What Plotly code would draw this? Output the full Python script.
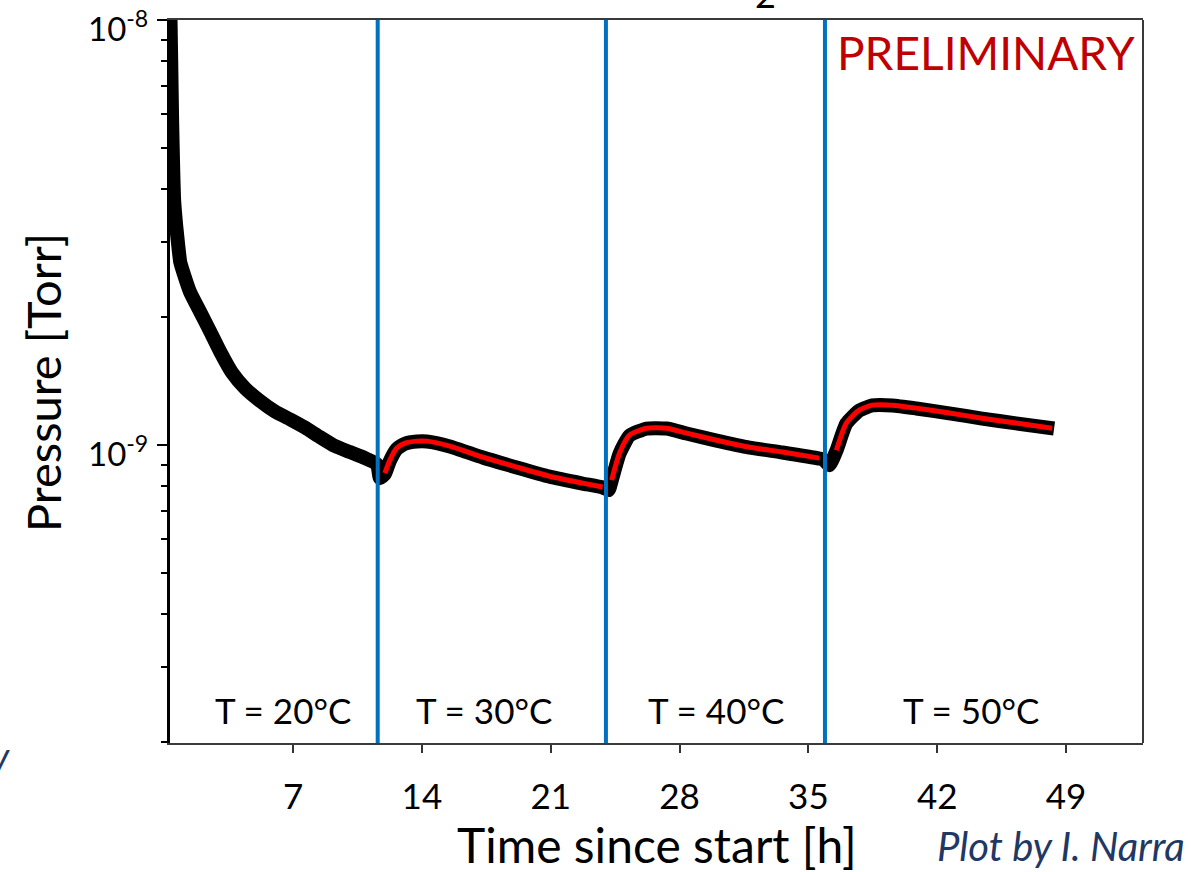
import math
import plotly.graph_objects as go

# ---- data ----
# measured pressure (black band), hours since start / Torr
meas_hours = [0.30, 0.38, 0.43, 0.49, 0.54, 0.65, 0.76, 0.87, 1.09, 1.41, 1.95, 2.50,
              3.04, 3.69, 4.40, 5.21, 6.02, 6.84, 7.65, 8.46, 9.28, 10.09, 10.91, 11.56,
              11.72, 11.99, 12.26, 12.64, 13.08, 13.73, 14.27, 15.52, 17.31, 19.15, 20.94,
              22.73, 23.82, 24.15, 24.31, 24.74, 25.28, 26.21, 27.29, 28.38, 30.01, 31.80,
              33.59, 35.59, 35.81, 36.14, 36.52, 37.06, 37.76, 38.47, 39.56, 40.86, 42.65,
              44.44, 46.28, 48.35]
meas_torr = [1.3e-8, 8.05e-9, 5.82e-9, 4.44e-9, 3.77e-9, 3.29e-9, 2.96e-9, 2.70e-9,
             2.51e-9, 2.29e-9, 2.06e-9, 1.85e-9, 1.66e-9, 1.48e-9, 1.36e-9, 1.27e-9,
             1.20e-9, 1.15e-9, 1.10e-9, 1.045e-9, 0.995e-9, 0.963e-9, 0.932e-9, 0.902e-9,
             0.836e-9, 0.855e-9, 0.918e-9, 0.980e-9, 1.008e-9, 1.020e-9, 1.020e-9,
             0.993e-9, 0.935e-9, 0.886e-9, 0.843e-9, 0.812e-9, 0.795e-9, 0.784e-9,
             0.824e-9, 0.955e-9, 1.053e-9, 1.094e-9, 1.094e-9, 1.065e-9, 1.025e-9,
             0.987e-9, 0.961e-9, 0.930e-9, 0.925e-9, 0.897e-9, 0.970e-9, 1.124e-9,
             1.206e-9, 1.240e-9, 1.240e-9, 1.220e-9, 1.188e-9, 1.155e-9, 1.125e-9,
             1.094e-9]

# fits (red) per temperature step
fit30_hours = [11.99, 12.26, 12.64, 13.08, 13.73, 14.27, 15.52, 17.31, 19.15, 20.94, 22.73, 23.82]
fit30_torr = [0.859e-9, 0.922e-9, 0.984e-9, 1.011e-9, 1.022e-9, 1.022e-9, 0.995e-9,
              0.937e-9, 0.888e-9, 0.845e-9, 0.814e-9, 0.797e-9]
fit40_hours = [24.31, 24.74, 25.28, 26.21, 27.29, 28.38, 30.01, 31.80, 33.59, 35.59]
fit40_torr = [0.827e-9, 0.958e-9, 1.056e-9, 1.096e-9, 1.096e-9, 1.067e-9, 1.027e-9,
              0.989e-9, 0.963e-9, 0.932e-9]
fit50_hours = [36.52, 37.06, 37.76, 38.47, 39.56, 40.86, 42.65, 44.44, 46.28, 48.24]
fit50_torr = [0.973e-9, 1.127e-9, 1.209e-9, 1.242e-9, 1.242e-9, 1.222e-9, 1.190e-9,
              1.157e-9, 1.127e-9, 1.096e-9]

step_hours = [11.6, 24.0, 35.9]
temp_labels = ["T = 20°C", "T = 30°C", "T = 40°C", "T = 50°C"]
temp_label_hours = [6.45, 17.38, 29.98, 43.83]

x_ticks = [7, 14, 21, 28, 35, 42, 49]
y_ticks = [1e-9, 1e-8]
y_ticktext = ["10<sup>-9</sup>", "10<sup>-8</sup>"]
y_minor = [k * 1e-10 for k in range(2, 10)] + [k * 1e-9 for k in range(2, 10)]

FONT = "Lato"

fig = go.Figure()
fig.add_trace(go.Scatter(x=meas_hours, y=meas_torr, mode="lines",
                         line=dict(color="black", width=14, shape="spline", smoothing=0.5),
                         showlegend=False))
for hx, hy in [(fit30_hours, fit30_torr), (fit40_hours, fit40_torr), (fit50_hours, fit50_torr)]:
    fig.add_trace(go.Scatter(x=hx, y=hy, mode="lines",
                             line=dict(color="#ff0000", width=5, shape="spline", smoothing=0.6),
                             showlegend=False))

for h in step_hours:
    fig.add_shape(type="line", x0=h, x1=h, xref="x", yref="paper", y0=0, y1=1,
                  line=dict(color="#0070C0", width=4))
# right frame edge
fig.add_shape(type="line", x0=1, x1=1, xref="paper", yref="paper", y0=0, y1=1,
              line=dict(color="#3a3a3a", width=2))

for txt, h in zip(temp_labels, temp_label_hours):
    fig.add_annotation(x=h, xref="x", y=0.045, yref="paper", text=txt, showarrow=False,
                       font=dict(family=FONT, size=35, color="black"),
                       xanchor="center", yanchor="middle")

# y tick labels as annotations (log axis -> positions in log10 units)
for val, txt in zip(y_ticks, y_ticktext):
    fig.add_annotation(x=0, xref="paper", y=math.log10(val), yref="y", text=txt,
                       showarrow=False, xanchor="right", yanchor="top", xshift=-20,
                       yshift=18, font=dict(family=FONT, size=33, color="black"))

fig.add_annotation(x=1, xref="paper", y=1, yref="paper", text="PRELIMINARY",
                   showarrow=False, xanchor="right", yanchor="top", xshift=-6, yshift=-3,
                   font=dict(family=FONT, size=46, color="#C00000"))
fig.add_annotation(x=0.5, xref="paper", y=0, yref="paper", text="Time since start [h]",
                   showarrow=False, xanchor="center", yanchor="middle", yshift=-101,
                   font=dict(family=FONT, size=48, color="black"))
fig.add_annotation(x=0, xref="paper", y=0.498, yref="paper", text="Pressure [Torr]",
                   showarrow=False, xanchor="center", yanchor="middle", xshift=-127,
                   textangle=-90, font=dict(family=FONT, size=47, color="black"))
fig.add_annotation(x=1, xref="paper", y=0, yref="paper", text="<i>Plot by I. Narra</i>",
                   showarrow=False, xanchor="right", yanchor="middle", xshift=44, yshift=-103,
                   font=dict(family=FONT, size=40, color="#1F3864"))
# slide fragments around the chart
fig.add_annotation(x=0, xref="paper", y=1, yref="paper", text="2", showarrow=False,
                   xanchor="center", yanchor="middle", xshift=595, yshift=26,
                   font=dict(family=FONT, size=36, color="black"))
fig.add_annotation(x=0, xref="paper", y=0, yref="paper", text="<i>y</i>", showarrow=False,
                   xanchor="right", yanchor="middle", xshift=-158, yshift=-12,
                   font=dict(family=FONT, size=38, color="#1F3864"))

fig.update_xaxes(range=[0.315, 53.18], tickmode="array", tickvals=x_ticks,
                 ticks="outside", ticklen=8, tickwidth=2, tickcolor="#333",
                 showline=True, linecolor="#3a3a3a", linewidth=2, mirror=True,
                 showgrid=False, zeroline=False, ticklabelstandoff=14, automargin=False,
                 tickfont=dict(family=FONT, size=35, color="black"))
fig.update_yaxes(type="log", range=[-9.701, -7.9995], tickmode="array", tickvals=y_ticks,
                 showticklabels=False, ticks="outside", ticklen=10, tickwidth=2,
                 tickcolor="black", showline=True, linecolor="black", linewidth=3,
                 showgrid=False, zeroline=False, automargin=False,
                 minor=dict(tickvals=y_minor, ticks="outside", ticklen=6, tickwidth=2,
                            tickcolor="black", showgrid=False))

fig.update_layout(width=1191, height=872, margin=dict(l=170, r=48, t=20, b=129, autoexpand=False),
                  plot_bgcolor="white", paper_bgcolor="white",
                  font=dict(family=FONT, color="black"))

fig.write_html("out.html")
